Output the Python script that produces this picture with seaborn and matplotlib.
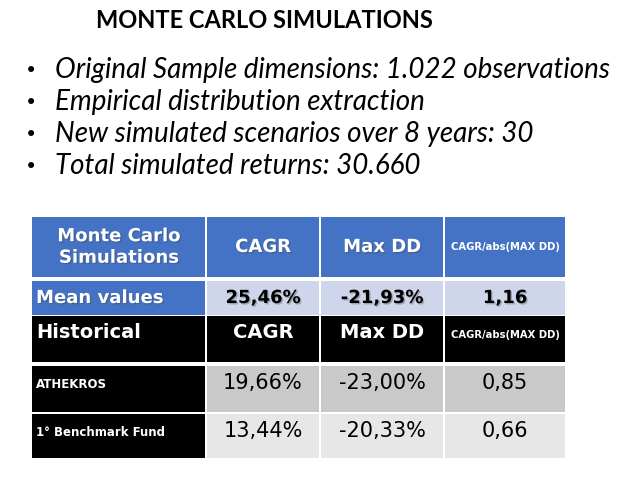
import matplotlib
matplotlib.use("Agg")
import matplotlib.pyplot as plt
import matplotlib.patheffects as pe
from matplotlib.patches import Rectangle
import seaborn as sns

# slide content
title = "MONTE CARLO SIMULATIONS"
bullets = [
    "Original Sample dimensions: 1.022 observations",
    "Empirical distribution extraction",
    "New simulated scenarios over 8 years: 30",
    "Total simulated returns: 30.660",
]

# table content
mc_header = ["Monte Carlo\nSimulations", "CAGR", "Max DD", "CAGR/abs(MAX DD)"]
mean_label = "Mean values"
mean_values = ["25,46%", "-21,93%", "1,16"]
hist_header = ["Historical", "CAGR", "Max DD", "CAGR/abs(MAX DD)"]
funds = ["ATHEKROS", "1° Benchmark Fund"]
cagr = [19.66, 13.44]
max_dd = [-23.00, -20.33]
ratio = [0.85, 0.66]


def fmt(v, pct=True):
    s = f"{v:.2f}".replace(".", ",")
    return s + "%" if pct else s


sns.set_theme(style="white")
plt.rcParams["font.family"] = ["DejaVu Sans"]

fig = plt.figure(figsize=(6.4, 4.8), dpi=100)
ax = fig.add_axes([0, 0, 1, 1])
ax.set_xlim(0, 640)
ax.set_ylim(480, 0)
ax.axis("off")

blue = "#4472C4"
lav = "#CFD5EA"
grey1 = "#C9C9C9"
grey2 = "#E7E7E7"

shadow = [pe.SimplePatchShadow(offset=(1, -1), shadow_rgbFace="#444444", alpha=0.35), pe.Normal()]

# title and bullets
ax.text(264, 21, title, family="Lato", weight="bold", fontsize=17,
        ha="center", va="center", color="black")
for i, b in enumerate(bullets):
    y = 70 + i * 32
    ax.text(31, y + 1, "•", fontsize=15, ha="center", va="center", color="black")
    ax.text(55, y, b, family="Lato", style="italic", fontsize=20,
            ha="left", va="center", color="black")

# table layout
col_x = [32, 207, 321, 445]
col_w = [173, 112, 122, 120]
row_y = [217, 281, 316, 366, 414]
row_h = [60, 34, 46, 46, 44]


def cell(c, r, color):
    ax.add_patch(Rectangle((col_x[c], row_y[r]), col_w[c], row_h[r],
                           facecolor=color, edgecolor="none"))


def center(c):
    return col_x[c] + col_w[c] / 2


# row 0: Monte Carlo header
for c in range(4):
    cell(c, 0, blue)
ax.text(center(0), row_y[0] + row_h[0] / 2, mc_header[0], color="white", weight="bold",
        fontsize=13, ha="center", va="center", linespacing=1.25, path_effects=shadow)
for c in (1, 2):
    ax.text(center(c), row_y[0] + row_h[0] / 2, mc_header[c], color="white", weight="bold",
            fontsize=13, ha="center", va="center", path_effects=shadow)
ax.text(center(3), row_y[0] + row_h[0] / 2, mc_header[3], color="white", weight="bold",
        fontsize=7.2, ha="center", va="center")

# row 1: mean values
cell(0, 1, blue)
ax.text(36, row_y[1] + row_h[1] / 2, mean_label, color="white", weight="bold",
        fontsize=13, ha="left", va="center", path_effects=shadow)
for c in range(1, 4):
    cell(c, 1, lav)
    ax.text(center(c), row_y[1] + row_h[1] / 2, mean_values[c - 1], color="black",
            weight="bold", fontsize=13, ha="center", va="center", path_effects=shadow)

# row 2: historical header
for c in range(4):
    cell(c, 2, "black")
ax.text(36, 333, hist_header[0], color="white", weight="bold", fontsize=14,
        ha="left", va="center")
for c in (1, 2):
    ax.text(center(c), 333, hist_header[c], color="white", weight="bold", fontsize=14,
            ha="center", va="center")
ax.text(center(3), 335, hist_header[3], color="white", weight="bold", fontsize=7.2,
        ha="center", va="center")

# rows 3-4: funds
for i, name in enumerate(funds):
    r = 3 + i
    bg = grey1 if i == 0 else grey2
    cell(0, r, "black")
    ax.text(36, row_y[r] + 19, name, color="white", weight="bold", fontsize=8.5,
            ha="left", va="center")
    vals = [fmt(cagr[i]), fmt(max_dd[i]), fmt(ratio[i], pct=False)]
    for c in range(1, 4):
        cell(c, r, bg)
        ax.text(center(c), row_y[r] + 17, vals[c - 1], color="black", fontsize=15,
                ha="center", va="center")

fig.savefig("out.png", dpi=100)
